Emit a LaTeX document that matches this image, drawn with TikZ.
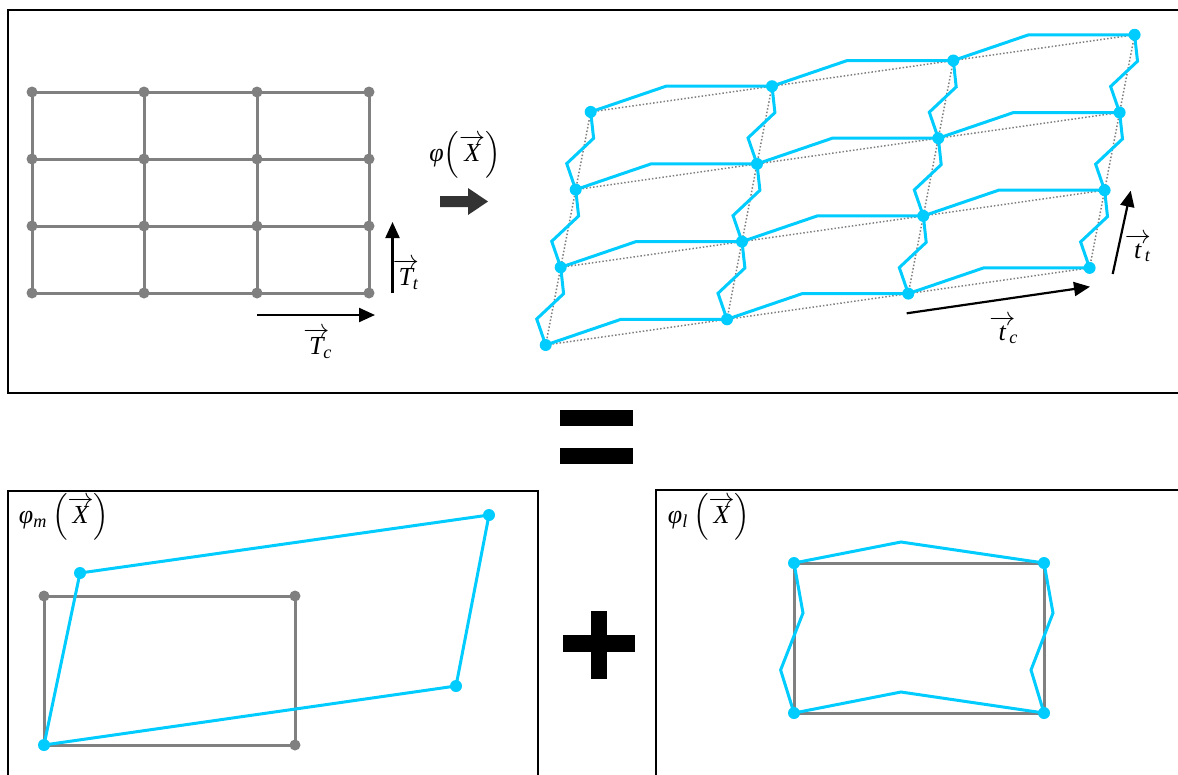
\documentclass[tikz,border=0pt]{standalone}
\usepackage{amsmath}
\usepackage{fontspec}
\setmainfont{Liberation Serif}
\usetikzlibrary{arrows.meta,calc}
\definecolor{cy}{RGB}{0,204,255}
\definecolor{gr}{RGB}{128,128,128}
\definecolor{dk}{RGB}{51,51,51}
\newcommand{\iv}[1]{\text{\itshape #1}}
\begin{document}
\begin{tikzpicture}[x=1pt,y=-1pt,
  frame/.style={draw=black,line width=2pt},
  gline/.style={draw=gr,line width=3pt},
  cline/.style={draw=cy,line width=3pt},
  gdot/.style={circle,fill=gr,inner sep=0pt,minimum size=11pt},
  cdot/.style={circle,fill=cy,inner sep=0pt,minimum size=12pt},
  dline/.style={draw=gr,line width=1.5pt,dash pattern=on 1.5pt off 2pt},
  arr/.style={-{Triangle[length=16pt,width=14pt]},line width=2.2pt},
  lbl/.style={scale=2.6,inner sep=0pt}]
\useasboundingbox (0,0) rectangle (1178,774);

% frames
\draw[frame] (8,10) rectangle (1190,393);
\draw[frame] (8,491) rectangle (538,790);
\draw[frame] (656,490) rectangle (1190,790);

% left regular grid
\foreach \i/\x in {0/32,1/144,2/257,3/369}
  \foreach \j/\y in {0/293,1/226,2/159,3/92}
    \coordinate (g\i\j) at (\x,\y);
\foreach \j in {0,...,3} \draw[gline] (g0\j) -- (g1\j) -- (g2\j) -- (g3\j);
\foreach \i in {0,...,3} \draw[gline] (g\i0) -- (g\i1) -- (g\i2) -- (g\i3);
\foreach \i in {0,...,3} \foreach \j in {0,...,3} \node[gdot] (gd\i\j) at (g\i\j) {};

% grid axes
\coordinate (Tcs) at (257,315); \coordinate (Tce) at (375,315);
\draw[arr] (Tcs) -- (Tce);
\coordinate (Tts) at (392.5,293); \coordinate (Tte) at (392.5,222);
\draw[arr] (Tts) -- (Tte);
\node[lbl] (Tc) at (318,343) {$\overrightarrow{\iv{T}}_{\mkern-5mu\iv{c}}$};
\node[lbl] (Tt) at (406,274) {$\overrightarrow{\iv{T}}_{\mkern-5mu\iv{t}}$};

% phi label and big arrow
\node[lbl] (phi) at (465,155) {\itshape φ$\left(\overrightarrow{\iv{X}}\right)$};
\fill[dk] (440,196) -- (468,196) -- (468,188) -- (488,201.5) -- (468,215) -- (468,207) -- (440,207) -- cycle;

% deformed grid
\foreach \i in {0,...,3} \foreach \j in {0,...,3} {
  \pgfmathsetmacro\px{545.7+181.3*\i+15*\j}
  \pgfmathsetmacro\py{345-25.7*\i-77.7*\j}
  \coordinate (p\i\j) at (\px,\py);
}
\foreach \j in {0,...,3} \draw[dline] (p0\j) -- (p1\j) -- (p2\j) -- (p3\j);
\foreach \i in {0,...,3} \draw[dline] (p\i0) -- (p\i1) -- (p\i2) -- (p\i3);
\foreach \j in {0,...,3} \foreach \i/\k in {0/1,1/2,2/3}
  \draw[cline] (p\i\j) -- ([shift={(-106,0)}]p\k\j) -- (p\k\j);
\foreach \i in {0,...,3} \foreach \j/\k in {0/1,1/2,2/3}
  \draw[cline] (p\i\j) -- ([shift={(-9,-26)}]p\i\j) -- ([shift={(17.9,-51.3)}]p\i\j) -- (p\i\k);
\foreach \i in {0,...,3} \foreach \j in {0,...,3} \node[cdot] (pd\i\j) at (p\i\j) {};

% deformed axes
\coordinate (tcs) at (906.7,313.3); \coordinate (tce) at (1090,286.7);
\draw[arr] (tcs) -- (tce);
\coordinate (tts) at (1112.7,274); \coordinate (tte) at (1130.7,190.7);
\draw[arr] (tts) -- (tte);
\node[lbl] (tc) at (1004,330) {$\overrightarrow{\iv{t}}_{\mkern-5mu\iv{c}}$};
\node[lbl] (tt) at (1138,248) {$\overrightarrow{\iv{t}}_{\mkern-5mu\iv{t}}$};

% equals and plus
\fill (560,410) rectangle (633,426);
\fill (560,448) rectangle (633,464);
\fill (563,635) rectangle (635,652);
\fill (591,611) rectangle (607,679);

% phi_m panel
\node[lbl] (phim) at (64,517) {\itshape φ$_{\iv{m}}\left(\overrightarrow{\iv{X}}\right)$};
\coordinate (m1) at (44,596); \coordinate (m2) at (295,596);
\coordinate (m3) at (295,745); \coordinate (m4) at (44,745);
\draw[gline] (m1) -- (m2) -- (m3) -- (m4) -- cycle;
\foreach \n in {1,2,3,4} \node[gdot] (md\n) at (m\n) {};
\coordinate (n1) at (44,745); \coordinate (n2) at (456,686);
\coordinate (n3) at (489,515); \coordinate (n4) at (80,573);
\draw[cline] (n1) -- (n2) -- (n3) -- (n4) -- cycle;
\foreach \n in {1,2,3,4} \node[cdot] (nd\n) at (n\n) {};

% phi_l panel
\node[lbl] (phil) at (709,517) {\itshape φ$_{\iv{l}}\left(\overrightarrow{\iv{X}}\right)$};
\coordinate (l1) at (794,563); \coordinate (l2) at (1044,563);
\coordinate (l3) at (1044,713); \coordinate (l4) at (794,713);
\draw[gline] (l1) -- (l2) -- (l3) -- (l4) -- cycle;
\draw[cline] (l1) -- (901,542) -- (l2) -- (1053,613) -- (1031,670) -- (l3)
  -- (901,692) -- (l4) -- (780.6,670) -- (803,613) -- cycle;
\foreach \n in {1,2,3,4} \node[cdot] (ld\n) at (l\n) {};
\end{tikzpicture}
\end{document}
